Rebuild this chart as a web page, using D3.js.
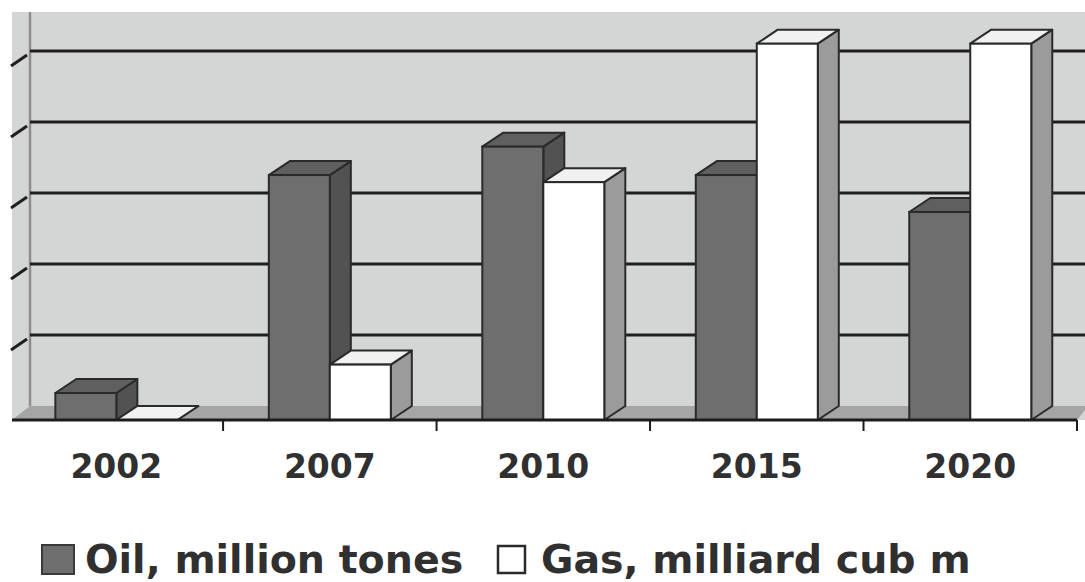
<!DOCTYPE html>
<html>
<head>
<meta charset="utf-8">
<script src="https://cdn.jsdelivr.net/npm/d3@7"></script>
<style>
  html, body { margin: 0; padding: 0; background: #ffffff; }
  svg { display: block; }
</style>
</head>
<body>
<svg id="chart" width="1085" height="582"></svg>
<script>
// ---- data ----
const categories = ["2002", "2007", "2010", "2015", "2020"];
const seriesNames = ["Oil, million tones", "Gas, milliard cub m"];
const oilValues = [3.8, 34.5, 38.5, 34.5, 29.3];
const gasValues = [0, 7.8, 33.5, 53, 53];
const yTicks = [0, 10, 20, 30, 40, 50];

// ---- layout ----
const W = 1085, H = 582;
const frontBase = 420;      // front baseline
const depthX = 21, depthY = -14;
const wallTop = 12, wallLeft = 12;
const barW = 61;

const svg = d3.select("#chart");

const x = d3.scaleBand().domain(categories).range([9.6, 1077]).paddingInner(0).paddingOuter(0);
const xs = d3.scaleBand().domain(["oil", "gas"]).range([-barW, barW]);
const y = d3.scaleLinear().domain([0, 50]).range([frontBase, frontBase - 355]);

// wall background (back + side)
svg.append("rect")
  .attr("x", wallLeft).attr("y", wallTop)
  .attr("width", W - wallLeft).attr("height", frontBase - wallTop)
  .attr("fill", "#d4d6d5");

// floor
svg.append("polygon")
  .attr("points", [[wallLeft, frontBase], [wallLeft + depthX - 3, frontBase + depthY], [W + 30, frontBase + depthY], [1077 + 8, frontBase + depthY + 4], [1077, frontBase]].map(p => p.join(",")).join(" "))
  .attr("fill", "#a4a5a4");

// left wall edge line
svg.append("line")
  .attr("x1", 30).attr("x2", 30)
  .attr("y1", wallTop).attr("y2", frontBase + depthY)
  .attr("stroke", "#8c8d8c").attr("stroke-width", 2.5);

// gridlines on back wall
svg.append("g").selectAll("line")
  .data(yTicks.filter(d => d > 0))
  .join("line")
  .attr("x1", 30).attr("x2", W)
  .attr("y1", d => y(d) + depthY).attr("y2", d => y(d) + depthY)
  .attr("stroke", "#1f1f1f").attr("stroke-width", 3);

// left slanted tick marks
svg.append("g").selectAll("line")
  .data(yTicks.filter(d => d > 0))
  .join("line")
  .attr("x1", 11).attr("y1", d => y(d) + 1)
  .attr("x2", 27).attr("y2", d => y(d) - 10)
  .attr("stroke", "#1f1f1f").attr("stroke-width", 3);

// bars
const oilCol = { front: "#6d6e6d", top: "#5e5f5e", side: "#515251" };
const gasCol = { front: "#ffffff", top: "#f1f1f1", side: "#9a9b9a" };
const stroke = "#2a2a2a";

const barData = [];
categories.forEach((c, i) => {
  barData.push({ cat: c, key: "oil", value: oilValues[i], col: oilCol });
  barData.push({ cat: c, key: "gas", value: gasValues[i], col: gasCol });
});

const pts = arr => arr.map(p => p.join(",")).join(" ");
const bars = svg.append("g").selectAll("g").data(barData).join("g");

bars.each(function(d) {
  const g = d3.select(this);
  const x0 = x(d.cat) + x.bandwidth() / 2 + xs(d.key);
  const x1 = x0 + barW;
  const yt = y(d.value), yb = y(0);
  g.append("polygon")
    .attr("points", pts([[x1, yt], [x1 + depthX, yt + depthY], [x1 + depthX, yb + depthY], [x1, yb]]))
    .attr("fill", d.col.side).attr("stroke", stroke).attr("stroke-width", 2).attr("stroke-linejoin", "round");
  g.append("polygon")
    .attr("points", pts([[x0, yt], [x0 + depthX, yt + depthY], [x1 + depthX, yt + depthY], [x1, yt]]))
    .attr("fill", d.col.top).attr("stroke", stroke).attr("stroke-width", 2).attr("stroke-linejoin", "round");
  if (yb - yt > 0) {
    g.append("rect")
      .attr("x", x0).attr("y", yt).attr("width", barW).attr("height", yb - yt)
      .attr("fill", d.col.front).attr("stroke", stroke).attr("stroke-width", 2);
  }
});

// front baseline and ticks
svg.append("line")
  .attr("x1", wallLeft).attr("x2", 1077)
  .attr("y1", frontBase).attr("y2", frontBase)
  .attr("stroke", "#1c1c1c").attr("stroke-width", 3);

const boundaries = categories.map(c => x(c) + x.bandwidth());
svg.append("g").selectAll("line")
  .data(boundaries)
  .join("line")
  .attr("x1", d => d).attr("x2", d => d)
  .attr("y1", frontBase).attr("y2", frontBase + 11)
  .attr("stroke", "#1c1c1c").attr("stroke-width", 2);

// category labels
svg.append("g").selectAll("text")
  .data(categories)
  .join("text")
  .attr("x", d => x(d) + x.bandwidth() / 2)
  .attr("y", 478)
  .attr("text-anchor", "middle")
  .attr("font-family", "DejaVu Sans, Verdana, sans-serif")
  .attr("font-weight", "bold")
  .attr("font-size", 33)
  .attr("fill", "#303030")
  .text(d => d);

// legend
const legend = svg.append("g");
legend.append("rect")
  .attr("x", 42).attr("y", 545).attr("width", 32).attr("height", 29)
  .attr("fill", oilCol.front).attr("stroke", "#3a3a3a").attr("stroke-width", 2);
legend.append("text")
  .attr("x", 85).attr("y", 573)
  .attr("font-family", "DejaVu Sans, Verdana, sans-serif")
  .attr("font-weight", "bold").attr("font-size", 39.5)
  .attr("fill", "#303030")
  .text(seriesNames[0]);
legend.append("rect")
  .attr("x", 498).attr("y", 546).attr("width", 27).attr("height", 27)
  .attr("fill", "#ffffff").attr("stroke", "#2a2a2a").attr("stroke-width", 2.5);
legend.append("text")
  .attr("x", 541).attr("y", 573)
  .attr("font-family", "DejaVu Sans, Verdana, sans-serif")
  .attr("font-weight", "bold").attr("font-size", 39.5)
  .attr("fill", "#303030")
  .text(seriesNames[1]);
</script>
</body>
</html>
